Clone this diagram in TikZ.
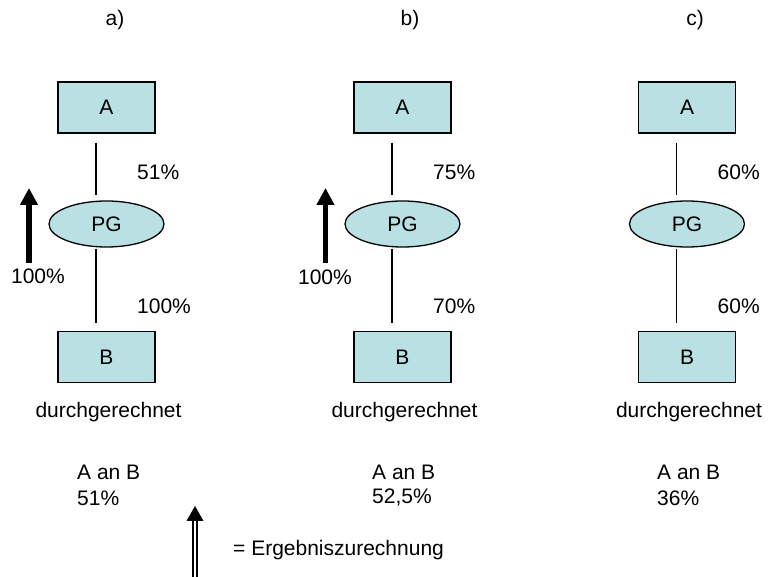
\documentclass[tikz,border=0pt]{standalone}
\usepackage{fontspec}
\setmainfont{Liberation Sans}
\usetikzlibrary{arrows.meta,shapes.geometric}
\definecolor{boxfill}{RGB}{185,224,227}
\tikzset{
  txt/.style={font=\fontsize{21}{25}\selectfont, inner sep=0pt},
  box/.style={txt, draw, line width=1.3pt, fill=boxfill, minimum width=97pt, minimum height=51pt},
  oval/.style={txt, ellipse, draw, line width=1.3pt, fill=boxfill, minimum width=115pt, minimum height=46pt},
  conn/.style={line width=1.2pt},
  bigarrow/.style={line width=5.5pt, -{Triangle[length=17pt,width=17pt]}},
  pct/.style={txt, anchor=west},
}
\begin{document}
\begin{tikzpicture}[x=1pt,y=-1pt]
\useasboundingbox (0,0) rectangle (780,577);

% column headings
\node[txt] (ha) at (115,20) {a)};
\node[txt] (hb) at (410,20) {b)};
\node[txt] (hc) at (695,20) {c)};

% three ownership chains A -> PG -> B
\foreach \col/\cx/\up/\down in {a/106.5/51\%/100\%, b/402.5/75\%/70\%, c/687/60\%/60\%}{
  \node[box] (A\col) at (\cx,107.5) {A};
  \node[oval] (PG\col) at (\cx,224) {PG};
  \node[box] (B\col) at (\cx,357) {B};
  \draw[conn] ([xshift=-10.5pt,yshift=-9pt]A\col.south) -- ([xshift=-10.5pt,yshift=5pt]PG\col.north);
  \draw[conn] ([xshift=-10.5pt,yshift=-1pt]PG\col.south) -- ([xshift=-10.5pt,yshift=8pt]B\col.north);
  \node[pct] (up\col) at (\cx+30.5,172) {\up};
  \node[pct] (down\col) at (\cx+30.5,306) {\down};
  \node[txt] (dg\col) at (\cx+2,412) {durchgerechnet};
}

% resulting shares
\node[pct] (ra) at (77,472) {A an B};
\node[pct] (va) at (77,498) {51\%};
\node[pct] (rb) at (372,472) {A an B};
\node[pct] (vb) at (372,498) {52,5\%};
\node[pct] (rc) at (657,472) {A an B};
\node[pct] (vc) at (657,498) {36\%};

% attribution arrows
\coordinate (sa) at (29,263);
\coordinate (ta) at (29,188);
\draw[bigarrow] (sa) -- (ta);
\node[txt] (la) at (38,276) {100\%};
\coordinate (sb) at (325.5,263);
\coordinate (tb) at (325.5,188);
\draw[bigarrow] (sb) -- (tb);
\node[txt] (lb) at (325,277) {100\%};

% legend
\coordinate (lt) at (195,506);
\fill (lt) -- (203.5,521) -- (186.5,521) -- cycle;
\draw[line width=1.2pt] (193,520) -- (193,580);
\draw[line width=1.2pt] (197,520) -- (197,580);
\node[pct] (leg) at (233,550) {= Ergebniszurechnung};
\end{tikzpicture}
\end{document}
